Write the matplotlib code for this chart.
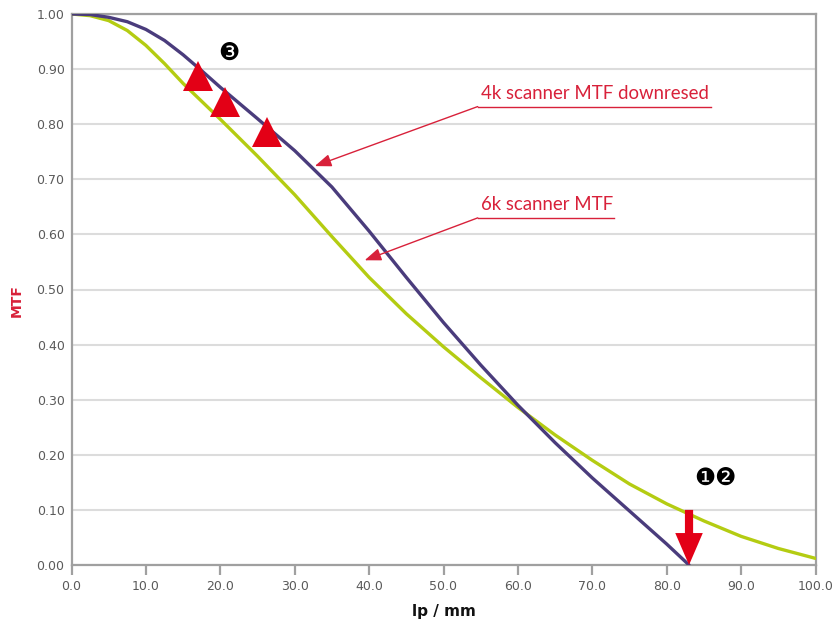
import matplotlib
matplotlib.use("Agg")
import matplotlib.pyplot as plt

# ---------------- data ----------------
lp_6k = [0, 2.5, 5, 7.5, 10, 12.5, 15, 20, 25, 30, 35, 40, 45, 50, 55, 60,
         65, 70, 75, 80, 85, 90, 95, 100]
mtf_6k = [1.0, 0.997, 0.988, 0.970, 0.943, 0.910, 0.874, 0.809, 0.742, 0.672,
          0.596, 0.522, 0.456, 0.396, 0.340, 0.286, 0.236, 0.190, 0.147, 0.111,
          0.080, 0.052, 0.030, 0.012]

lp_4k = [0, 2.5, 5, 7.5, 10, 12.5, 15, 17.5, 20, 25, 30, 35, 40, 45, 50, 55,
         60, 65, 70, 75, 80, 83]
mtf_4k = [1.0, 0.999, 0.994, 0.986, 0.972, 0.952, 0.926, 0.897, 0.867, 0.810,
          0.752, 0.686, 0.606, 0.522, 0.440, 0.363, 0.290, 0.222, 0.158, 0.098,
          0.038, 0.0]

tri_x = [17.0, 20.6, 26.3]
tri_y = [0.887, 0.840, 0.786]

cutoff_lp = 83.0
x_ticks = [0, 10, 20, 30, 40, 50, 60, 70, 80, 90, 100]
y_ticks = [0.0, 0.1, 0.2, 0.3, 0.4, 0.5, 0.6, 0.7, 0.8, 0.9, 1.0]

label_4k = "4k scanner MTF downresed"
label_6k = "6k scanner MTF"

# ---------------- style ----------------
RED = "#d8213a"
MARK_RED = "#e30016"
PURPLE = "#4a3c7c"
YELLOW = "#b4cc12"
GRID = "#dcdcdc"
SPINE = "#a0a0a0"
TICKTXT = "#5a5a5a"

fig = plt.figure(figsize=(8.36, 6.23), dpi=100)
ax = fig.add_axes([71.5 / 836, 58 / 623, (815.5 - 71.5) / 836, (565 - 14) / 623])

ax.set_xlim(0, 100)
ax.set_ylim(0, 1.0)

ax.set_yticks(y_ticks)
ax.set_yticklabels([f"{v:.2f}" for v in y_ticks])
ax.set_xticks(x_ticks)
ax.set_xticklabels([f"{v:.1f}" for v in x_ticks])

ax.yaxis.grid(True, color=GRID, linewidth=1.5)
ax.set_axisbelow(True)

for s in ax.spines.values():
    s.set_color(SPINE)
    s.set_linewidth(1.6)

ax.tick_params(axis="y", length=0, pad=5, labelsize=9, labelcolor=TICKTXT)
ax.tick_params(axis="x", direction="out", length=7, width=1.6, color=SPINE,
               pad=4, labelsize=9, labelcolor=TICKTXT)

ax.plot(lp_6k, mtf_6k, color=YELLOW, linewidth=2.4, solid_capstyle="round",
        solid_joinstyle="round", zorder=3)
ax.plot(lp_4k, mtf_4k, color=PURPLE, linewidth=2.4, solid_capstyle="round",
        solid_joinstyle="round", zorder=4)

ax.plot(tri_x, tri_y, linestyle="none", marker="^", markersize=21,
        color=MARK_RED, markeredgewidth=0, zorder=5, clip_on=False)

# cutoff arrow
ax.arrow(cutoff_lp, 0.10, 0, -0.10, width=1.1, head_width=3.7,
         head_length=0.058, length_includes_head=True, color=MARK_RED,
         linewidth=0, zorder=6)

# callout labels
arrow_style = dict(arrowstyle="-|>,head_length=1.0,head_width=0.38",
                   color=RED, linewidth=1.0, shrinkA=0, shrinkB=0,
                   mutation_scale=10)

ax.text(55.0, 0.845, label_4k, color=RED, fontsize=13.4, ha="left",
        va="baseline", family="Lato")
ax.plot([54.6, 86.0], [0.832, 0.832], color=RED, linewidth=1.0, zorder=6)
ax.annotate("", xy=(32.7, 0.724), xytext=(54.6, 0.832),
            arrowprops=arrow_style, zorder=6)

ax.text(55.0, 0.644, label_6k, color=RED, fontsize=13.4, ha="left",
        va="baseline", family="Lato")
ax.plot([54.6, 72.9], [0.630, 0.630], color=RED, linewidth=1.0, zorder=6)
ax.annotate("", xy=(39.4, 0.553), xytext=(54.6, 0.630),
            arrowprops=arrow_style, zorder=6)

# numbered markers
ax.text(21.2, 0.930, "\u2778", fontsize=17, color="black", ha="center",
        va="center", family="DejaVu Sans")
ax.text(86.5, 0.158, "\u2776\u2777", fontsize=17, color="black", ha="center",
        va="center", family="DejaVu Sans")

ax.set_ylabel("MTF", color=RED, fontsize=10, fontweight="bold")
ax.yaxis.set_label_coords(-0.064, 0.48)
ax.set_xlabel("lp / mm", color="#111111", fontsize=11, fontweight="bold",
              labelpad=8)

fig.savefig("out.png", dpi=100)
